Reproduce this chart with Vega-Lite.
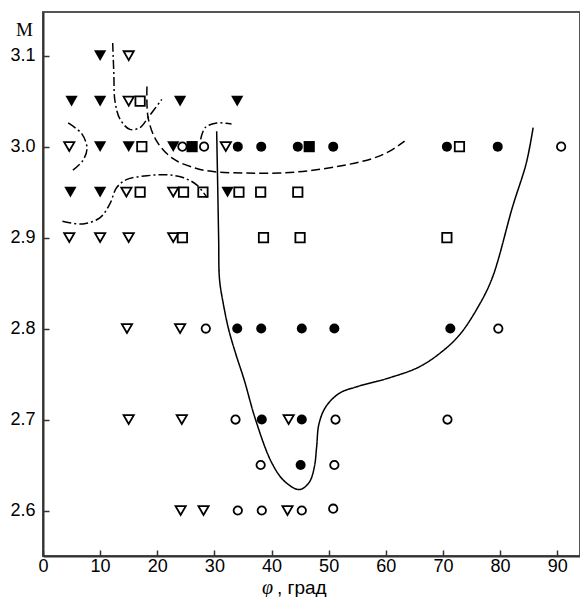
{
  "$schema": "https://vega.github.io/schema/vega-lite/v6.json",
  "width": 537,
  "height": 544,
  "autosize": {"type": "none"},
  "padding": {"left": 43, "top": 12, "right": 0, "bottom": 41},
  "background": "white",
  "title": {
    "text": ", град",
    "orient": "bottom",
    "anchor": "start",
    "frame": "group",
    "font": "Liberation Sans",
    "fontSize": 19,
    "fontWeight": "normal",
    "color": "black",
    "baseline": "alphabetic",
    "offset": 0,
    "dx": 234,
    "dy": -3
  },
  "config": {
    "view": {"stroke": "#555", "strokeWidth": 2},
    "axis": {
      "grid": false,
      "labelFont": "Liberation Sans",
      "labelFontSize": 18,
      "labelColor": "black",
      "domainColor": "#333",
      "domainWidth": 2,
      "tickColor": "#333",
      "tickWidth": 1.5,
      "tickSize": -6,
      "titleColor": "black",
      "titleFontWeight": "normal"
    }
  },
  "datasets": {
    "points": [
      {"phi": 10, "M": 3.1, "marker": "tri", "fill": "filled"},
      {"phi": 15, "M": 3.1, "marker": "tri", "fill": "open"},
      {"phi": 5, "M": 3.05, "marker": "tri", "fill": "filled"},
      {"phi": 10, "M": 3.05, "marker": "tri", "fill": "filled"},
      {"phi": 15, "M": 3.05, "marker": "tri", "fill": "open"},
      {"phi": 17, "M": 3.05, "marker": "sq", "fill": "open"},
      {"phi": 24, "M": 3.05, "marker": "tri", "fill": "filled"},
      {"phi": 34, "M": 3.05, "marker": "tri", "fill": "filled"},
      {"phi": 4.6, "M": 3.0, "marker": "tri", "fill": "open"},
      {"phi": 10, "M": 3.0, "marker": "tri", "fill": "filled"},
      {"phi": 15, "M": 3.0, "marker": "tri", "fill": "filled"},
      {"phi": 17.3, "M": 3.0, "marker": "sq", "fill": "open"},
      {"phi": 22.8, "M": 3.0, "marker": "tri", "fill": "filled"},
      {"phi": 24.4, "M": 3.0, "marker": "circ", "fill": "open"},
      {"phi": 26.1, "M": 3.0, "marker": "sq", "fill": "filled"},
      {"phi": 28.2, "M": 3.0, "marker": "circ", "fill": "open"},
      {"phi": 32, "M": 3.0, "marker": "tri", "fill": "open"},
      {"phi": 34.1, "M": 3.0, "marker": "circ", "fill": "filled"},
      {"phi": 38.2, "M": 3.0, "marker": "circ", "fill": "filled"},
      {"phi": 44.6, "M": 3.0, "marker": "circ", "fill": "filled"},
      {"phi": 46.6, "M": 3.0, "marker": "sq", "fill": "filled"},
      {"phi": 50.8, "M": 3.0, "marker": "circ", "fill": "filled"},
      {"phi": 70.7, "M": 3.0, "marker": "circ", "fill": "filled"},
      {"phi": 72.9, "M": 3.0, "marker": "sq", "fill": "open"},
      {"phi": 79.6, "M": 3.0, "marker": "circ", "fill": "filled"},
      {"phi": 90.7, "M": 3.0, "marker": "circ", "fill": "open"},
      {"phi": 4.8, "M": 2.95, "marker": "tri", "fill": "filled"},
      {"phi": 10, "M": 2.95, "marker": "tri", "fill": "filled"},
      {"phi": 14.6, "M": 2.95, "marker": "tri", "fill": "open"},
      {"phi": 17, "M": 2.95, "marker": "sq", "fill": "open"},
      {"phi": 22.8, "M": 2.95, "marker": "tri", "fill": "open"},
      {"phi": 24.6, "M": 2.95, "marker": "sq", "fill": "open"},
      {"phi": 28, "M": 2.95, "marker": "sq", "fill": "open"},
      {"phi": 32.3, "M": 2.95, "marker": "tri", "fill": "filled"},
      {"phi": 34.3, "M": 2.95, "marker": "sq", "fill": "open"},
      {"phi": 38.1, "M": 2.95, "marker": "sq", "fill": "open"},
      {"phi": 44.6, "M": 2.95, "marker": "sq", "fill": "open"},
      {"phi": 4.6, "M": 2.9, "marker": "tri", "fill": "open"},
      {"phi": 10, "M": 2.9, "marker": "tri", "fill": "open"},
      {"phi": 15, "M": 2.9, "marker": "tri", "fill": "open"},
      {"phi": 22.8, "M": 2.9, "marker": "tri", "fill": "open"},
      {"phi": 24.4, "M": 2.9, "marker": "sq", "fill": "open"},
      {"phi": 38.6, "M": 2.9, "marker": "sq", "fill": "open"},
      {"phi": 45, "M": 2.9, "marker": "sq", "fill": "open"},
      {"phi": 70.7, "M": 2.9, "marker": "sq", "fill": "open"},
      {"phi": 14.7, "M": 2.8, "marker": "tri", "fill": "open"},
      {"phi": 24, "M": 2.8, "marker": "tri", "fill": "open"},
      {"phi": 28.5, "M": 2.8, "marker": "circ", "fill": "open"},
      {"phi": 34, "M": 2.8, "marker": "circ", "fill": "filled"},
      {"phi": 38.2, "M": 2.8, "marker": "circ", "fill": "filled"},
      {"phi": 45.3, "M": 2.8, "marker": "circ", "fill": "filled"},
      {"phi": 51, "M": 2.8, "marker": "circ", "fill": "filled"},
      {"phi": 71.3, "M": 2.8, "marker": "circ", "fill": "filled"},
      {"phi": 79.7, "M": 2.8, "marker": "circ", "fill": "open"},
      {"phi": 15, "M": 2.7, "marker": "tri", "fill": "open"},
      {"phi": 24.3, "M": 2.7, "marker": "tri", "fill": "open"},
      {"phi": 33.7, "M": 2.7, "marker": "circ", "fill": "open"},
      {"phi": 38.3, "M": 2.7, "marker": "circ", "fill": "filled"},
      {"phi": 43, "M": 2.7, "marker": "tri", "fill": "open"},
      {"phi": 45.3, "M": 2.7, "marker": "circ", "fill": "filled"},
      {"phi": 51.2, "M": 2.7, "marker": "circ", "fill": "open"},
      {"phi": 70.8, "M": 2.7, "marker": "circ", "fill": "open"},
      {"phi": 38.1, "M": 2.65, "marker": "circ", "fill": "open"},
      {"phi": 45.1, "M": 2.65, "marker": "circ", "fill": "filled"},
      {"phi": 51, "M": 2.65, "marker": "circ", "fill": "open"},
      {"phi": 24.1, "M": 2.6, "marker": "tri", "fill": "open"},
      {"phi": 28.1, "M": 2.6, "marker": "tri", "fill": "open"},
      {"phi": 34.1, "M": 2.6, "marker": "circ", "fill": "open"},
      {"phi": 38.3, "M": 2.6, "marker": "circ", "fill": "open"},
      {"phi": 42.8, "M": 2.6, "marker": "tri", "fill": "open"},
      {"phi": 45.3, "M": 2.6, "marker": "circ", "fill": "open"},
      {"phi": 50.8, "M": 2.602, "marker": "circ", "fill": "open"}
    ],
    "curves": [
      {"seg": "solid", "style": "solid", "seq": 1, "phi": 30.4, "M": 3.017},
      {"seg": "solid", "style": "solid", "seq": 2, "phi": 30.6, "M": 2.95},
      {"seg": "solid", "style": "solid", "seq": 3, "phi": 30.75, "M": 2.898},
      {"seg": "solid", "style": "solid", "seq": 4, "phi": 30.9, "M": 2.854},
      {"seg": "solid", "style": "solid", "seq": 5, "phi": 31.6, "M": 2.826},
      {"seg": "solid", "style": "solid", "seq": 6, "phi": 32.5, "M": 2.799},
      {"seg": "solid", "style": "solid", "seq": 7, "phi": 33.8, "M": 2.771},
      {"seg": "solid", "style": "solid", "seq": 8, "phi": 35.2, "M": 2.744},
      {"seg": "solid", "style": "solid", "seq": 9, "phi": 37.2, "M": 2.7},
      {"seg": "solid", "style": "solid", "seq": 10, "phi": 40.0, "M": 2.653},
      {"seg": "solid", "style": "solid", "seq": 11, "phi": 42.3, "M": 2.632},
      {"seg": "solid", "style": "solid", "seq": 12, "phi": 44.9, "M": 2.623},
      {"seg": "solid", "style": "solid", "seq": 13, "phi": 46.6, "M": 2.631},
      {"seg": "solid", "style": "solid", "seq": 14, "phi": 47.5, "M": 2.648},
      {"seg": "solid", "style": "solid", "seq": 15, "phi": 47.9, "M": 2.67},
      {"seg": "solid", "style": "solid", "seq": 16, "phi": 48.3, "M": 2.695},
      {"seg": "solid", "style": "solid", "seq": 17, "phi": 49.5, "M": 2.714},
      {"seg": "solid", "style": "solid", "seq": 18, "phi": 51.9, "M": 2.729},
      {"seg": "solid", "style": "solid", "seq": 19, "phi": 54.9, "M": 2.736},
      {"seg": "solid", "style": "solid", "seq": 20, "phi": 60.7, "M": 2.746},
      {"seg": "solid", "style": "solid", "seq": 21, "phi": 65.9, "M": 2.758},
      {"seg": "solid", "style": "solid", "seq": 22, "phi": 69.9, "M": 2.775},
      {"seg": "solid", "style": "solid", "seq": 23, "phi": 72.9, "M": 2.793},
      {"seg": "solid", "style": "solid", "seq": 24, "phi": 75.9, "M": 2.821},
      {"seg": "solid", "style": "solid", "seq": 25, "phi": 78.6, "M": 2.855},
      {"seg": "solid", "style": "solid", "seq": 26, "phi": 82.2, "M": 2.934},
      {"seg": "solid", "style": "solid", "seq": 27, "phi": 84.6, "M": 2.982},
      {"seg": "solid", "style": "solid", "seq": 28, "phi": 85.8, "M": 3.021},
      {"seg": "dashed", "style": "dashed", "seq": 1, "phi": 18.2, "M": 3.066},
      {"seg": "dashed", "style": "dashed", "seq": 2, "phi": 18.4, "M": 3.032},
      {"seg": "dashed", "style": "dashed", "seq": 3, "phi": 19.9, "M": 3.006},
      {"seg": "dashed", "style": "dashed", "seq": 4, "phi": 22.7, "M": 2.987},
      {"seg": "dashed", "style": "dashed", "seq": 5, "phi": 26.9, "M": 2.976},
      {"seg": "dashed", "style": "dashed", "seq": 6, "phi": 30.6, "M": 2.972},
      {"seg": "dashed", "style": "dashed", "seq": 7, "phi": 35.7, "M": 2.971},
      {"seg": "dashed", "style": "dashed", "seq": 8, "phi": 41.4, "M": 2.971},
      {"seg": "dashed", "style": "dashed", "seq": 9, "phi": 47.2, "M": 2.974},
      {"seg": "dashed", "style": "dashed", "seq": 10, "phi": 53.1, "M": 2.98},
      {"seg": "dashed", "style": "dashed", "seq": 11, "phi": 57.7, "M": 2.987},
      {"seg": "dashed", "style": "dashed", "seq": 12, "phi": 60.7, "M": 2.995},
      {"seg": "dashed", "style": "dashed", "seq": 13, "phi": 63.3, "M": 3.006},
      {"seg": "dd1", "style": "dashdot", "seq": 1, "phi": 12.2, "M": 3.114},
      {"seg": "dd1", "style": "dashdot", "seq": 2, "phi": 12.4, "M": 3.08},
      {"seg": "dd1", "style": "dashdot", "seq": 3, "phi": 12.6, "M": 3.05},
      {"seg": "dd1", "style": "dashdot", "seq": 4, "phi": 13.5, "M": 3.03},
      {"seg": "dd1", "style": "dashdot", "seq": 5, "phi": 15.2, "M": 3.019},
      {"seg": "dd1", "style": "dashdot", "seq": 6, "phi": 17.0, "M": 3.021},
      {"seg": "dd1", "style": "dashdot", "seq": 7, "phi": 18.4, "M": 3.032},
      {"seg": "dd1", "style": "dashdot", "seq": 8, "phi": 20.8, "M": 3.052},
      {"seg": "dd2", "style": "dashdot", "seq": 1, "phi": 4.4, "M": 3.026},
      {"seg": "dd2", "style": "dashdot", "seq": 2, "phi": 6.8, "M": 3.014},
      {"seg": "dd2", "style": "dashdot", "seq": 3, "phi": 7.7, "M": 2.998},
      {"seg": "dd2", "style": "dashdot", "seq": 4, "phi": 6.9, "M": 2.984},
      {"seg": "dd2", "style": "dashdot", "seq": 5, "phi": 5.0, "M": 2.973},
      {"seg": "dd3", "style": "dashdot", "seq": 1, "phi": 3.4, "M": 2.918},
      {"seg": "dd3", "style": "dashdot", "seq": 2, "phi": 7.0, "M": 2.915},
      {"seg": "dd3", "style": "dashdot", "seq": 3, "phi": 10.0, "M": 2.922},
      {"seg": "dd3", "style": "dashdot", "seq": 4, "phi": 11.7, "M": 2.937},
      {"seg": "dd3", "style": "dashdot", "seq": 5, "phi": 12.9, "M": 2.955},
      {"seg": "dd3", "style": "dashdot", "seq": 6, "phi": 14.7, "M": 2.964},
      {"seg": "dd3", "style": "dashdot", "seq": 7, "phi": 18.2, "M": 2.968},
      {"seg": "dd3", "style": "dashdot", "seq": 8, "phi": 21.7, "M": 2.969},
      {"seg": "dd3", "style": "dashdot", "seq": 9, "phi": 24.5, "M": 2.966},
      {"seg": "dd3", "style": "dashdot", "seq": 10, "phi": 26.9, "M": 2.958},
      {"seg": "dd3", "style": "dashdot", "seq": 11, "phi": 28.7, "M": 2.944},
      {"seg": "dd4", "style": "dashdot", "seq": 1, "phi": 27.6, "M": 3.008},
      {"seg": "dd4", "style": "dashdot", "seq": 2, "phi": 28.4, "M": 3.021},
      {"seg": "dd4", "style": "dashdot", "seq": 3, "phi": 30.4, "M": 3.026},
      {"seg": "dd4", "style": "dashdot", "seq": 4, "phi": 33.0, "M": 3.025}
    ]
  },
  "layer": [
    {
      "data": {"name": "curves"},
      "mark": {"type": "line", "color": "black", "strokeWidth": 1.5, "interpolate": "catmull-rom"},
      "encoding": {
        "x": {
          "field": "phi", "type": "quantitative",
          "scale": {"domain": [0, 94], "nice": false, "zero": false},
          "axis": {
            "values": [0, 10, 20, 30, 40, 50, 60, 70, 80, 90],
            "labelFontSize": 18,
            "labelPadding": 7,
            "labelFlush": false,
            "title": "φ",
            "titleFont": "Liberation Serif",
            "titleFontStyle": "italic",
            "titleFontSize": 20,
            "titleX": 224,
            "titleY": 37,
            "titleAlign": "center",
            "titleBaseline": "alphabetic"
          }
        },
        "y": {
          "field": "M", "type": "quantitative",
          "scale": {"domain": [2.55, 3.148], "nice": false, "zero": false},
          "axis": {
            "values": [2.6, 2.7, 2.8, 2.9, 3.0, 3.1],
            "format": ".1f",
            "labelFontSize": 18,
            "labelPadding": 14,
            "title": "M",
            "titleAngle": 0,
            "titleFont": "Liberation Serif",
            "titleFontSize": 19,
            "titleX": -19,
            "titleY": 23,
            "titleAlign": "center",
            "titleBaseline": "alphabetic"
          }
        },
        "detail": {"field": "seg", "type": "nominal"},
        "order": {"field": "seq", "type": "quantitative"},
        "strokeDash": {
          "field": "style", "type": "nominal",
          "scale": {"domain": ["solid", "dashed", "dashdot"], "range": [[1, 0], [9, 4], [9, 3, 2, 3]]},
          "legend": null
        }
      }
    },
    {
      "data": {"name": "points"},
      "transform": [{"filter": "datum.fill === 'open'"}],
      "mark": {"type": "point", "filled": false, "color": "black", "strokeWidth": 1.8, "opacity": 1},
      "encoding": {
        "x": {"field": "phi", "type": "quantitative"},
        "y": {"field": "M", "type": "quantitative"},
        "shape": {
          "field": "marker", "type": "nominal",
          "scale": {"domain": ["tri", "sq", "circ"], "range": ["triangle-down", "square", "circle"]},
          "legend": null
        },
        "size": {
          "field": "marker", "type": "nominal",
          "scale": {"domain": ["tri", "sq", "circ"], "range": [105, 70, 85]},
          "legend": null
        }
      }
    },
    {
      "data": {"name": "points"},
      "transform": [{"filter": "datum.fill === 'filled'"}],
      "mark": {"type": "point", "filled": true, "color": "black", "opacity": 1},
      "encoding": {
        "x": {"field": "phi", "type": "quantitative"},
        "y": {"field": "M", "type": "quantitative"},
        "shape": {
          "field": "marker", "type": "nominal",
          "scale": {"domain": ["tri", "sq", "circ"], "range": ["triangle-down", "square", "circle"]},
          "legend": null
        },
        "size": {
          "field": "marker", "type": "nominal",
          "scale": {"domain": ["tri", "sq", "circ"], "range": [150, 100, 125]},
          "legend": null
        }
      }
    }
  ],
  "resolve": {"scale": {"size": "independent"}}
}
